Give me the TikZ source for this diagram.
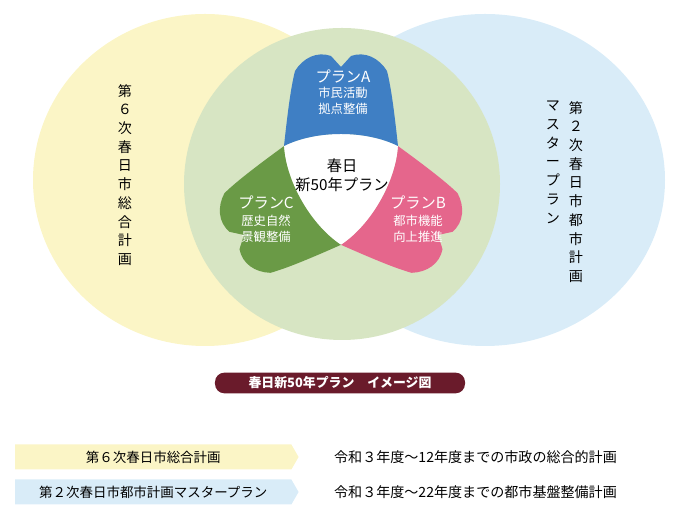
\documentclass[tikz,border=0pt]{standalone}
\usepackage{fontspec}
\setmainfont{Noto Sans CJK JP}
\usetikzlibrary{shapes.symbols}

\definecolor{planyellow}{HTML}{FBF5C6}
\definecolor{planblue}{HTML}{D9ECF8}
\definecolor{plangreen}{HTML}{D7E5C3}
\definecolor{petalA}{HTML}{3F7FC4}
\definecolor{petalB}{HTML}{E5668C}
\definecolor{petalC}{HTML}{6A9A46}
\definecolor{banner}{HTML}{6A1B2B}

\tikzset{
    petaltext/.style={text=white, font=\fontsize{10.5}{13}\selectfont, align=center},
    vtitle/.style={font=\fontsize{12}{16}\selectfont, align=center},
    tag/.style={signal, signal to=east, signal pointer angle=120, draw=none,
        minimum height=0.75cm, minimum width=8.5cm, font=\fontsize{11.5}{13}\selectfont},
    note/.style={anchor=west, font=\fontsize{12}{14}\selectfont}
}

% one petal pointing up from the flower centre
\newcommand{\petal}[2]{%
    \fill[#1, rotate=#2] (-57,33) .. controls (-53,70) and (-50,92) .. (-46,108)
        .. controls (-38,121) and (-24,128) .. (-10,123) -- (0,112) -- (10,123)
        .. controls (24,128) and (38,121) .. (46,108)
        .. controls (50,92) and (53,70) .. (57,33)
        .. controls (25,49) and (-25,49) .. (-57,33) -- cycle;}

\begin{document}
\begin{tikzpicture}[x=0.03cm, y=0.03cm]
    \useasboundingbox (0,0) rectangle (690,515);

    % circles
    \fill[planyellow] (205,335) ellipse [x radius=172, y radius=166];
    \fill[planblue] (485,335) ellipse [x radius=180, y radius=166];
    \fill[plangreen] (342,331) ellipse [x radius=158, y radius=156];

    % flower
    \begin{scope}[shift={(341,336)}]
        \fill[white] (-57,33) .. controls (-25,49) and (25,49) .. (57,33)
            .. controls (54.9,-2.9) and (29.9,-46.2) .. (0,-66)
            .. controls (-29.9,-46.2) and (-54.9,-2.9) .. (-57,33) -- cycle;
        \petal{petalA}{0}
        \petal{petalB}{-120}
        \petal{petalC}{120}
    \end{scope}

    \node[vtitle] (keikaku) at (125,340) {第\\６\\次\\春\\日\\市\\総\\合\\計\\画};
    \node[vtitle, anchor=north] (toshi) at (576,418) {第\\２\\次\\春\\日\\市\\都\\市\\計\\画};
    \node[vtitle, anchor=north] (master) at (553,418) {マ\\ス\\タ\\ー\\プ\\ラ\\ン};

    \node[petaltext] (planA) at (343,423) {{\fontsize{13}{15}\selectfont プランA}\\市民活動\\拠点整備};
    \node[petaltext] (planC) at (266,296) {{\fontsize{13}{15}\selectfont プランC}\\[2pt]歴史自然\\景観整備};
    \node[petaltext] (planB) at (418,296) {{\fontsize{13}{15}\selectfont プランB}\\[2pt]都市機能\\向上推進};
    \node[font=\fontsize{13}{16}\selectfont, align=center] (center) at (342,340) {春日\\新50年プラン};

    % banner
    \node[fill=banner, text=white, rounded corners=8pt, minimum width=7.5cm, minimum height=0.62cm,
        font=\bfseries\fontsize{11}{13}\selectfont] (title) at (340,132) {春日新50年プラン　イメージ図};

    % legend
    \node[tag, fill=planyellow, anchor=west] (tag1) at (15,58) {第６次春日市総合計画};
    \node[tag, fill=planblue, anchor=west] (tag2) at (15,23) {第２次春日市都市計画マスタープラン};
    \node[note] (note1) at (330,58) {令和３年度～12年度までの市政の総合的計画};
    \node[note] (note2) at (330,23) {令和３年度～22年度までの都市基盤整備計画};
\end{tikzpicture}
\end{document}
